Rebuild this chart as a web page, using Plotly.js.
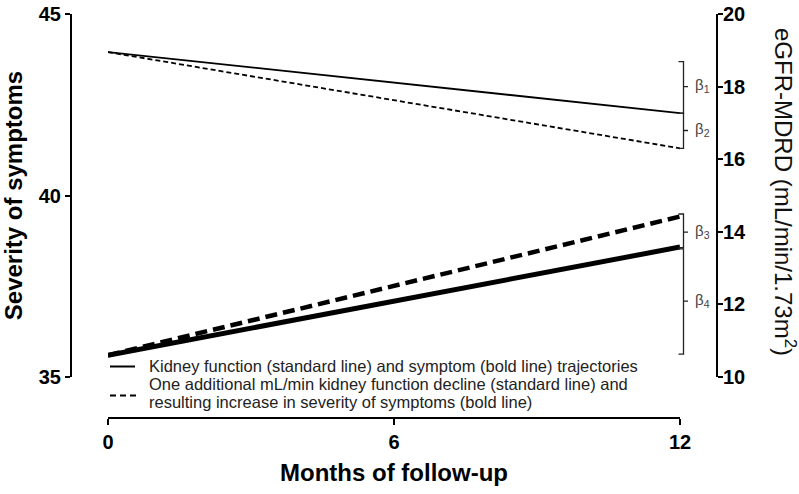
<!DOCTYPE html>
<html>
<head>
<meta charset="utf-8">
<script src="https://cdn.plot.ly/plotly-3.0.1.min.js"></script>
<style>html,body{margin:0;padding:0;background:#fff;}#chart{width:799px;height:494px;}</style>
</head>
<body>
<div id="chart"></div>
<script>
// ---- data ----
const months = [0, 12];
const egfrStandard = [18.95, 17.27];      // thin solid, right axis
const egfrDecline = [18.95, 16.30];       // thin dashed, right axis
const symptomStandard = [35.6, 38.58];    // bold solid, left axis
const symptomDecline = [35.6, 39.42];     // bold dashed, left axis
const legendLines = [
  'Kidney function (standard line) and symptom (bold line) trajectories',
  'One additional mL/min kidney function decline (standard line) and',
  'resulting increase in severity of symptoms (bold line)'
];
// beta brackets in eGFR units
const betaLabels = ['β<sub>1</sub>', 'β<sub>2</sub>', 'β<sub>3</sub>', 'β<sub>4</sub>'];
const betaTop = [18.69, 17.27, 14.49, 13.53];
const betaBottom = [17.27, 16.30, 13.56, 10.63];
const betaMid = [18.0, 16.79, 13.99, 12.09];
const yLeftTicks = [35, 40, 45];
const yRightTicks = [10, 12, 14, 16, 18, 20];
const xTicks = [0, 6, 12];

const FONT = 'Liberation Sans, Arial, sans-serif';
// layout geometry helpers (pixel -> paper)
const ML = 71, MR = 82, MT = 14, MB = 76, W = 799, H = 494;
const PW = W - ML - MR, PH = H - MT - MB;
const px = v => (v - ML) / PW;
const py = v => (H - MB - v) / PH;

const traces = [
  {x: months, y: egfrStandard, yaxis: 'y2', mode: 'lines', name: 'eGFR standard',
   line: {color: '#000', width: 1.8}},
  {x: months, y: egfrDecline, yaxis: 'y2', mode: 'lines', name: 'eGFR decline',
   line: {color: '#000', width: 1.8, dash: '5px,3px'}},
  {x: months, y: symptomStandard, yaxis: 'y', mode: 'lines', name: 'Symptoms standard',
   line: {color: '#000', width: 5}},
  {x: months, y: symptomDecline, yaxis: 'y', mode: 'lines', name: 'Symptoms decline',
   line: {color: '#000', width: 4.5, dash: '12px,6px'}}
];

const shapes = [];
const annotations = [];
for (let i = 0; i < betaLabels.length; i++) {
  shapes.push({
    type: 'path', xref: 'paper', yref: 'y2',
    path: `M ${px(678.5)},${betaTop[i]} L ${px(683.5)},${betaTop[i]} L ${px(683.5)},${betaBottom[i]} L ${px(678.5)},${betaBottom[i]} M ${px(683.5)},${betaMid[i]} L ${px(688)},${betaMid[i]}`,
    line: {color: '#222', width: 1.3}
  });
  annotations.push({
    x: px(693), y: betaMid[i], xref: 'paper', yref: 'y2', text: betaLabels[i],
    showarrow: false, xanchor: 'left', yanchor: 'middle', yshift: 1,
    font: {family: FONT, size: 15, color: '#444'}
  });
}
// legend (drawn manually)
shapes.push({type: 'line', xref: 'paper', yref: 'paper', x0: px(110), x1: px(135), y0: py(366.5), y1: py(366.5),
             line: {color: '#000', width: 2}});
shapes.push({type: 'line', xref: 'paper', yref: 'paper', x0: px(110), x1: px(136), y0: py(395.5), y1: py(395.5),
             line: {color: '#000', width: 2.2, dash: '6px,4px'}});
const legendY = [366, 384, 402];
legendLines.forEach((t, i) => annotations.push({
  xref: 'paper', yref: 'paper', x: px(147), y: py(legendY[i]), text: t, showarrow: false,
  xanchor: 'left', yanchor: 'middle', font: {family: FONT, size: 16.5, color: '#222'}
}));
annotations.push({
  xref: 'paper', yref: 'paper', x: px(785), y: py(192),
  text: 'eGFR-MDRD (mL/min/1.73m<sup>2</sup>)', textangle: 90, showarrow: false,
  xanchor: 'center', yanchor: 'middle',
  font: {family: FONT, size: 24, color: '#111'}
});

const layout = {
  width: W, height: H,
  margin: {l: ML, r: MR, t: MT, b: MB},
  paper_bgcolor: '#fff', plot_bgcolor: '#fff',
  showlegend: false,
  xaxis: {
    domain: [px(108), px(680)], anchor: 'free', position: 0,
    range: [0, 12], tickvals: xTicks, ticktext: xTicks.map(String),
    showgrid: false, zeroline: false, showline: true, linewidth: 2, linecolor: '#000',
    ticks: 'outside', ticklen: 6, tickwidth: 2, tickcolor: '#000',
    tickfont: {family: FONT, size: 20, weight: 'bold', color: '#000'},
    title: {text: 'Months of follow-up', font: {family: FONT, size: 24, weight: 'bold', color: '#000'}, standoff: 11},
    automargin: false
  },
  yaxis: {
    domain: [py(377), 1], anchor: 'free', position: 0,
    range: [35, 45], tickvals: yLeftTicks, ticktext: yLeftTicks.map(String),
    showgrid: false, zeroline: false, showline: true, linewidth: 2, linecolor: '#000',
    ticks: 'outside', ticklen: 5, tickwidth: 2, tickcolor: '#000',
    tickfont: {family: FONT, size: 20, weight: 'bold', color: '#000'},
    title: {text: 'Severity of symptoms', font: {family: FONT, size: 24, weight: 'bold', color: '#000'}, standoff: 8},
    automargin: false
  },
  yaxis2: {
    domain: [py(377), 1], overlaying: 'y', side: 'right', anchor: 'free', position: 1,
    range: [10, 20], tickvals: yRightTicks, ticktext: yRightTicks.map(String),
    showgrid: false, zeroline: false, showline: true, linewidth: 2, linecolor: '#000',
    ticks: 'outside', ticklen: 5, tickwidth: 2, tickcolor: '#000',
    tickfont: {family: FONT, size: 20, weight: 'bold', color: '#000'},
    ticklabelstandoff: -4,
    automargin: false
  },
  shapes: shapes,
  annotations: annotations
};

Plotly.newPlot('chart', traces, layout, {displayModeBar: false, staticPlot: true});
</script>
</body>
</html>
